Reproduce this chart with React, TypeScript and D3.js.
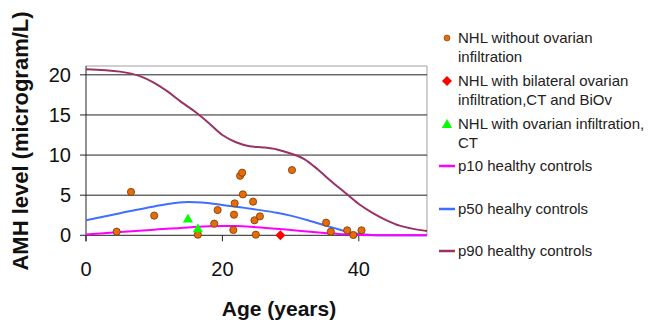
import React from "react";
import * as d3 from "d3";

// NHL patients without ovarian infiltration: [age, AMH]
const noInfiltration: [number, number][] = [
  [4.5, 0.45], [6.6, 5.4], [10.0, 2.45], [16.4, 0.08], [18.8, 1.45],
  [19.3, 3.15], [21.6, 0.66], [21.7, 2.57], [21.8, 3.98], [22.6, 7.42],
  [22.9, 7.8], [23.0, 5.1], [24.5, 4.19], [24.7, 1.87], [24.9, 0.08],
  [25.5, 2.36], [30.2, 8.13], [35.2, 1.57], [35.9, 0.45], [38.3, 0.62],
  [39.2, 0.04], [40.4, 0.62],
];
const bilateral: [number, number][] = [[28.5, 0]];
const infiltrationCT: [number, number][] = [[14.95, 1.95], [16.4, 0.75]];

// healthy control percentile curves
const p10: [number, number][] = [
  [0, 0.1], [5, 0.4], [10, 0.7], [15, 0.98], [20, 1.15], [22, 1.15],
  [25, 1.0], [30, 0.65], [35, 0.3], [38, 0.12], [40, 0.05], [45, 0], [50, 0],
];
const p50: [number, number][] = [
  [0, 1.87], [5, 2.75], [10, 3.6], [13, 4.02], [15, 4.15], [17, 4.1],
  [20, 3.77], [23, 3.45], [25, 3.2], [28, 2.8], [30, 2.45], [33, 1.75],
  [35, 1.25], [37, 0.75], [39, 0.3], [41, 0.1], [43, 0.02], [45, 0], [50, 0],
];
const p90: [number, number][] = [
  [0, 20.7], [5, 20.4], [8, 19.8], [10, 19.0], [12, 17.9], [14, 16.6],
  [16, 15.4], [18, 14.0], [20, 12.5], [22, 11.6], [24, 11.1], [26, 10.95],
  [28, 10.7], [30, 10.2], [32, 9.5], [34, 8.2], [36, 6.7], [38, 5.3],
  [40, 3.9], [42, 2.8], [44, 1.9], [46, 1.2], [48, 0.8], [50, 0.55],
];

const yTicks = [0, 5, 10, 15, 20];
const xTicks = [0, 20, 40];

const legendItems = [
  { kind: "circle", color: "#E46C0A", lines: ["NHL without ovarian", "infiltration"], y: 38 },
  { kind: "diamond", color: "#FF0000", lines: ["NHL with bilateral ovarian", "infiltration,CT and BiOv"], y: 81 },
  { kind: "triangle", color: "#00FF00", lines: ["NHL with ovarian infiltration,", "CT"], y: 124 },
  { kind: "line", color: "#FF00FF", lines: ["p10 healthy controls"], y: 166 },
  { kind: "line", color: "#3F6FFF", lines: ["p50 healhy controls"], y: 209 },
  { kind: "line", color: "#993366", lines: ["p90 healthy controls"], y: 251 },
];

const App = () => {
  const left = 86, right = 427, top = 66, bottom = 235.3;
  const x = d3.scaleLinear().domain([0, 50]).range([left, right]);
  const y = d3.scaleLinear().domain([0, 21.1]).range([bottom, top]);

  const line = d3
    .line<[number, number]>()
    .x((d) => x(d[0]))
    .y((d) => y(d[1]))
    .curve(d3.curveMonotoneX);

  const tri = d3.symbol().type(d3.symbolTriangle).size(45)() as string;
  const dia = d3.symbol().type(d3.symbolSquare).size(50)() as string;

  const font = "Arial, 'Liberation Sans', sans-serif";

  return (
    <svg
      width={651}
      height={322}
      style={{ position: "absolute", left: 0, top: 0, background: "#fff" }}
      fontFamily={font}
    >
      {/* plot frame */}
      <line x1={left} x2={right} y1={top} y2={top} stroke="#a0a0a0" />
      <line x1={right} x2={right} y1={top} y2={bottom} stroke="#a0a0a0" />

      {/* gridlines + y ticks */}
      {yTicks.map((t) => (
        <g key={t}>
          {t > 0 && (
            <line x1={left} x2={right} y1={y(t)} y2={y(t)} stroke="#222" strokeWidth={1} />
          )}
          <line x1={left - 6} x2={left} y1={y(t)} y2={y(t)} stroke="#222" />
          <text x={71} y={y(t) + 7} textAnchor="end" fontSize={20} fill="#111">
            {t}
          </text>
        </g>
      ))}

      {/* axes */}
      <line x1={left} x2={left} y1={top} y2={bottom + 6} stroke="#222" />
      <line x1={left} x2={right} y1={bottom} y2={bottom} stroke="#222" />
      {xTicks.map((t) => (
        <g key={t}>
          <line x1={x(t)} x2={x(t)} y1={bottom} y2={bottom + 6} stroke="#222" />
          <text x={x(t)} y={276} textAnchor="middle" fontSize={20} fill="#111">
            {t}
          </text>
        </g>
      ))}

      {/* percentile curves */}
      <path d={line(p90) || ""} fill="none" stroke="#993366" strokeWidth={2} />
      <path d={line(p50) || ""} fill="none" stroke="#3F6FFF" strokeWidth={2} />
      <path d={line(p10) || ""} fill="none" stroke="#FF00FF" strokeWidth={2} />

      {/* patients */}
      {noInfiltration.map((d, i) => (
        <circle key={i} cx={x(d[0])} cy={y(d[1])} r={3.6} fill="#E46C0A" stroke="#7a3a08" strokeWidth={0.8} />
      ))}
      {infiltrationCT.map((d, i) => (
        <path key={i} d={tri} transform={`translate(${x(d[0])},${y(d[1])})`} fill="#00FF00" />
      ))}
      {bilateral.map((d, i) => (
        <path key={i} d={dia} transform={`translate(${x(d[0])},${y(d[1])}) rotate(45)`} fill="#FF0000" />
      ))}

      {/* axis titles */}
      <text x={279} y={316} textAnchor="middle" fontSize={21} fontWeight="bold" fill="#111">
        Age (years)
      </text>
      <text
        transform="translate(28,141) rotate(-90)"
        textAnchor="middle"
        fontSize={22}
        fontWeight="bold"
        fill="#111"
      >
        AMH level (microgram/L)
      </text>

      {/* legend */}
      {legendItems.map((it) => (
        <g key={it.lines[0]}>
          {it.kind === "circle" && <circle cx={447} cy={it.y} r={3} fill={it.color} stroke="#7a3a08" strokeWidth={0.6} />}
          {it.kind === "diamond" && <path d={dia} transform={`translate(447,${it.y}) rotate(45)`} fill={it.color} />}
          {it.kind === "triangle" && <path d={tri} transform={`translate(447,${it.y + 1})`} fill={it.color} />}
          {it.kind === "line" && (
            <line x1={439} x2={455} y1={it.y} y2={it.y} stroke={it.color} strokeWidth={2.5} />
          )}
          {it.lines.map((l, j) => (
            <text key={j} x={458} y={it.y + 5 + j * 19} fontSize={15} fill="#222">
              {l}
            </text>
          ))}
        </g>
      ))}
    </svg>
  );
};

export default App;
